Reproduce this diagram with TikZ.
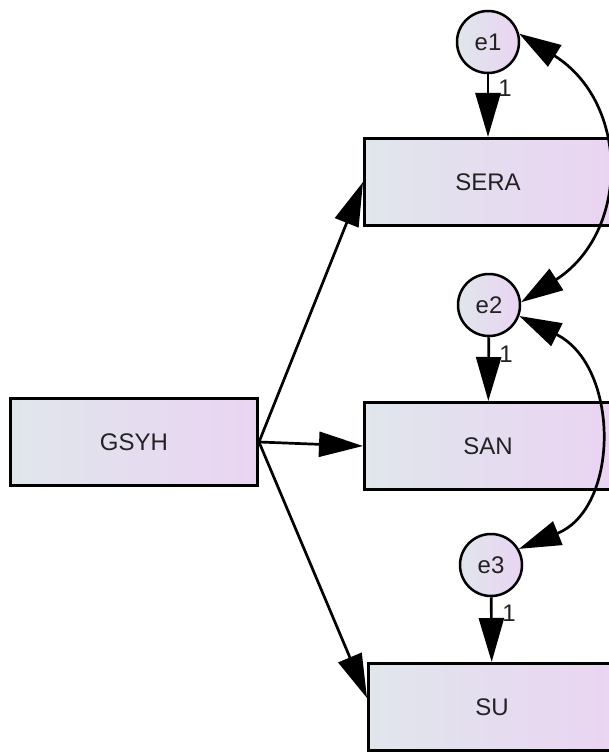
\documentclass[tikz,border=0pt]{standalone}
\usepackage{fontspec}
\setmainfont{Liberation Sans}
\usetikzlibrary{arrows.meta}
\definecolor{fillL}{RGB}{224,230,236}
\definecolor{fillR}{RGB}{234,212,242}
\definecolor{txt}{RGB}{34,34,34}
\begin{document}
\begin{tikzpicture}[x=1pt,y=-1pt,
  lbl/.style={text=txt, font=\fontsize{24}{28}\selectfont},
  obs/.style={lbl, draw=black, line width=3pt, rectangle, minimum width=247pt, minimum height=87pt, inner sep=0pt, left color=fillL, right color=fillR},
  err/.style={lbl, draw=black, line width=2.5pt, circle, minimum size=62pt, inner sep=0pt, left color=fillL, right color=fillR},
  regpath/.style={line width=2.7pt, -{Triangle[length=44pt,width=25pt]}},
  covpath/.style={line width=2.7pt, {Triangle[length=42pt,width=25pt]}-{Triangle[length=42pt,width=25pt]}},
  wt/.style={lbl, inner sep=0pt}
]
\clip (0,0) rectangle (609,754);
\useasboundingbox (0,0) rectangle (609,754);

\node[obs] (GSYH) at (134,442) {GSYH};
\node[obs] (SERA) at (488,182) {SERA};
\node[obs] (SAN)  at (488,446) {SAN};
\node[obs] (SU)   at (492,707) {SU};

\node[err] (e1) at (488,42)  {e1};
\node[err] (e2) at (489,305) {e2};
\node[err] (e3) at (491,565) {e3};

\draw[regpath] (e1) -- (SERA);
\draw[regpath] (e2) -- (SAN);
\draw[regpath] (e3) -- (SU);

\node[wt] (w1) at (505,88)  {1};
\node[wt] (w2) at (506,354) {1};
\node[wt] (w3) at (509,613) {1};

\draw[regpath] (GSYH.east) -- (SERA.west);
\draw[regpath] (GSYH.east) -- (SAN.west);
\draw[regpath] (GSYH.east) -- ([yshift=9pt]SU.west);

\draw[covpath] (e1.15) .. controls (630,103) and (630,232) .. (e2.5);
\draw[covpath] (e2.-20) .. controls (620,366) and (620,508) .. (e3.30);
\end{tikzpicture}
\end{document}
